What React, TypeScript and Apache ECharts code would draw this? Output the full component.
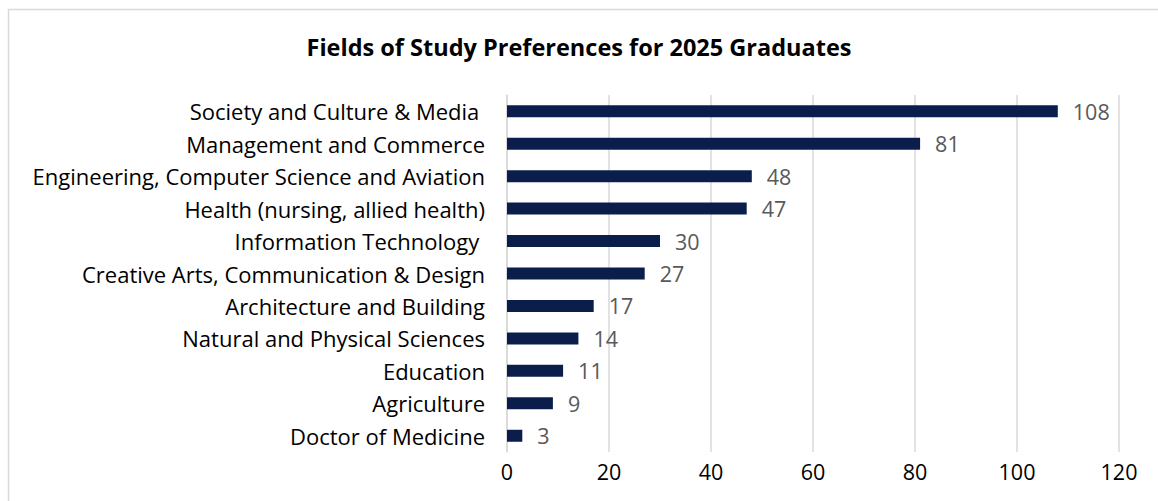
import React, { useEffect, useRef } from "react";
import * as echarts from "echarts";

const categories = [
  "Society and Culture & Media ",
  "Management and Commerce",
  "Engineering, Computer Science and Aviation",
  "Health (nursing, allied health)",
  "Information Technology ",
  "Creative Arts, Communication & Design",
  "Architecture and Building",
  "Natural and Physical Sciences",
  "Education",
  "Agriculture",
  "Doctor of Medicine",
];
const values = [108, 81, 48, 47, 30, 27, 17, 14, 11, 9, 3];
const xTicks = { min: 0, max: 120, interval: 20 };
const title = "Fields of Study Preferences for 2025 Graduates";

const FONT = "'Open Sans', 'Noto Sans', sans-serif";

export default function App() {
  const ref = useRef<HTMLDivElement>(null);
  useEffect(() => {
    if (!ref.current) return;
    const chart = echarts.init(ref.current, undefined, { renderer: "svg" });
    chart.setOption({
      animation: false,
      backgroundColor: "#ffffff",
      title: {
        text: title,
        left: "center",
        top: 30,
        textStyle: { fontFamily: FONT, fontSize: 23.5, fontWeight: "bold", color: "#000000" },
      },
      graphic: [
        {
          type: "rect",
          shape: { x: 8.5, y: 9.5, width: 1300, height: 700 },
          style: { fill: "none", stroke: "#d9d9d9", lineWidth: 1.5 },
          silent: true,
        },
      ],
      grid: { left: 507, right: 39, top: 95, bottom: 49, containLabel: false },
      xAxis: {
        type: "value",
        min: xTicks.min,
        max: xTicks.max,
        interval: xTicks.interval,
        axisLine: { show: false },
        axisTick: { show: false },
        splitLine: { show: true, lineStyle: { color: "#d9d9d9", width: 1.5 } },
        axisLabel: { fontFamily: FONT, fontSize: 21.5, color: "#000000", margin: 8 },
      },
      yAxis: {
        type: "category",
        data: categories,
        inverse: true,
        axisLine: { show: true, lineStyle: { color: "#d9d9d9", width: 1.5 } },
        axisTick: { show: false },
        axisLabel: { fontFamily: FONT, fontSize: 22, color: "#000000", margin: 22 },
      },
      series: [
        {
          type: "bar",
          data: values,
          barWidth: 12,
          itemStyle: { color: "#0b1e4b" },
          label: {
            show: true,
            position: "right",
            distance: 15,
            fontFamily: FONT,
            fontSize: 21.5,
            color: "#595959",
          },
        },
      ],
    });
    return () => chart.dispose();
  }, []);
  return (
    <div
      ref={ref}
      style={{ position: "fixed", left: 0, top: 0, width: 1158, height: 501 }}
    />
  );
}
